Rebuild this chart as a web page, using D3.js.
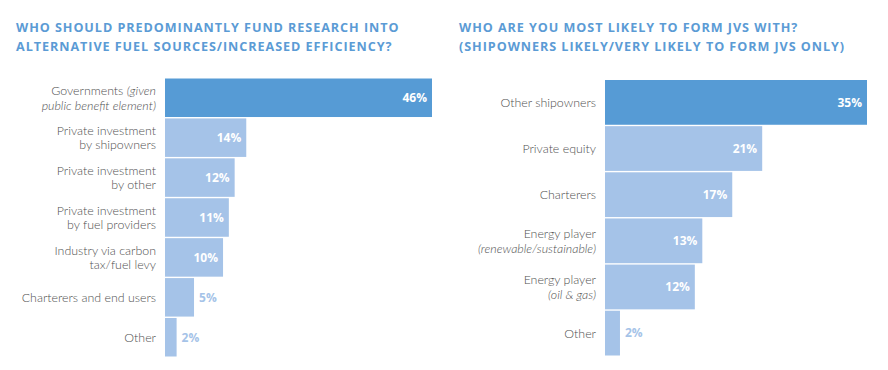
<!DOCTYPE html>
<html lang="en">
<head>
<meta charset="UTF-8">
<title>Fuel research funding and JVs</title>
<style>
    body { margin: 0; background: #fff; }
    svg { display: block; }
    .title { font-family: "Open Sans", sans-serif; font-weight: 700; font-size: 12.6px; letter-spacing: 0.95px; fill: #5b9bd5; }
    .cat { font-family: Lato, sans-serif; font-weight: 300; font-size: 12.4px; fill: #505050; }
    .val { font-family: "Open Sans", sans-serif; font-weight: 700; font-size: 12px; }
</style>
</head>
<body>
<svg id="chart" width="888" height="370"></svg>
<script src="https://d3js.org/d3.v7.min.js"></script>
<script>
// left panel
const leftTitle = ["WHO SHOULD PREDOMINANTLY FUND RESEARCH INTO", "ALTERNATIVE FUEL SOURCES/INCREASED EFFICIENCY?"];
const leftCategories = [
    "Governments (given\npublic benefit element)",
    "Private investment\nby shipowners",
    "Private investment\nby other",
    "Private investment\nby fuel providers",
    "Industry via carbon\ntax/fuel levy",
    "Charterers and end users",
    "Other"
];
const leftValues = [46, 14, 12, 11, 10, 5, 2];

// right panel
const rightTitle = ["WHO ARE YOU MOST LIKELY TO FORM JVS WITH?", "(SHIPOWNERS LIKELY/VERY LIKELY TO FORM JVS ONLY)"];
const rightCategories = [
    "Other shipowners",
    "Private equity",
    "Charterers",
    "Energy player\n(renewable/sustainable)",
    "Energy player\n(oil & gas)",
    "Other"
];
const rightValues = [35, 21, 17, 13, 12, 2];

const dark = "#569bd5", light = "#a5c3e8";
const svg = d3.select("#chart");

function panel(opt) {
    const g = svg.append("g");

    g.append("text").attr("class", "title")
        .attr("x", opt.titleX).attr("y", 32)
        .selectAll("tspan").data(opt.title).join("tspan")
        .attr("x", opt.titleX).attr("dy", (d, i) => i ? 18.5 : 0)
        .text(d => d);

    const y = d3.scaleBand().domain(opt.cats).range(opt.yRange).paddingInner(opt.pad);
    const x = d3.scaleLinear().domain([0, opt.max]).range([opt.x0, opt.x1]);

    g.selectAll("rect").data(opt.vals).join("rect")
        .attr("x", x(0))
        .attr("y", (d, i) => y(opt.cats[i]))
        .attr("width", d => x(d) - x(0))
        .attr("height", y.bandwidth())
        .attr("fill", (d, i) => i === 0 ? dark : light);

    // value labels: inside if the bar is wide enough
    g.selectAll(".val").data(opt.vals).join("text")
        .attr("class", "val")
        .attr("y", (d, i) => y(opt.cats[i]) + y.bandwidth() / 2)
        .attr("dy", "0.36em")
        .each(function (d) {
            const inside = d >= 8;
            d3.select(this)
                .attr("x", inside ? x(d) - 5 : x(d) + 5)
                .attr("text-anchor", inside ? "end" : "start")
                .attr("fill", inside ? "#fff" : light);
        })
        .text(d => d + "%");

    // category labels, text from "(" onwards in italics
    opt.cats.forEach(c => {
        const lines = c.split("\n");
        const cy = y(c) + y.bandwidth() / 2;
        const lh = 14.7;
        const t = g.append("text").attr("class", "cat")
            .attr("text-anchor", "end");
        let ital = false;
        lines.forEach((line, li) => {
            const parts = line.split(/(?=\()/);
            parts.forEach((p, pi) => {
                if (p.startsWith("(")) ital = true;
                const ts = t.append("tspan").text(p)
                    .attr("font-style", ital ? "italic" : "normal");
                if (pi === 0) {
                    ts.attr("x", opt.labelX)
                      .attr("y", cy + (li - (lines.length - 1) / 2) * lh)
                      .attr("dy", "0.36em");
                }
            });
            if (line.includes(")")) ital = false;
        });
    });
}

panel({
    title: leftTitle, titleX: 16,
    cats: leftCategories, vals: leftValues,
    yRange: [78.5, 356.5], pad: 0.035,
    x0: 165, max: 46, x1: 432, labelX: 156
});

panel({
    title: rightTitle, titleX: 459,
    cats: rightCategories, vals: rightValues,
    yRange: [80, 355.5], pad: 0.03,
    x0: 605, max: 35, x1: 867, labelX: 596
});
</script>
</body>
</html>
